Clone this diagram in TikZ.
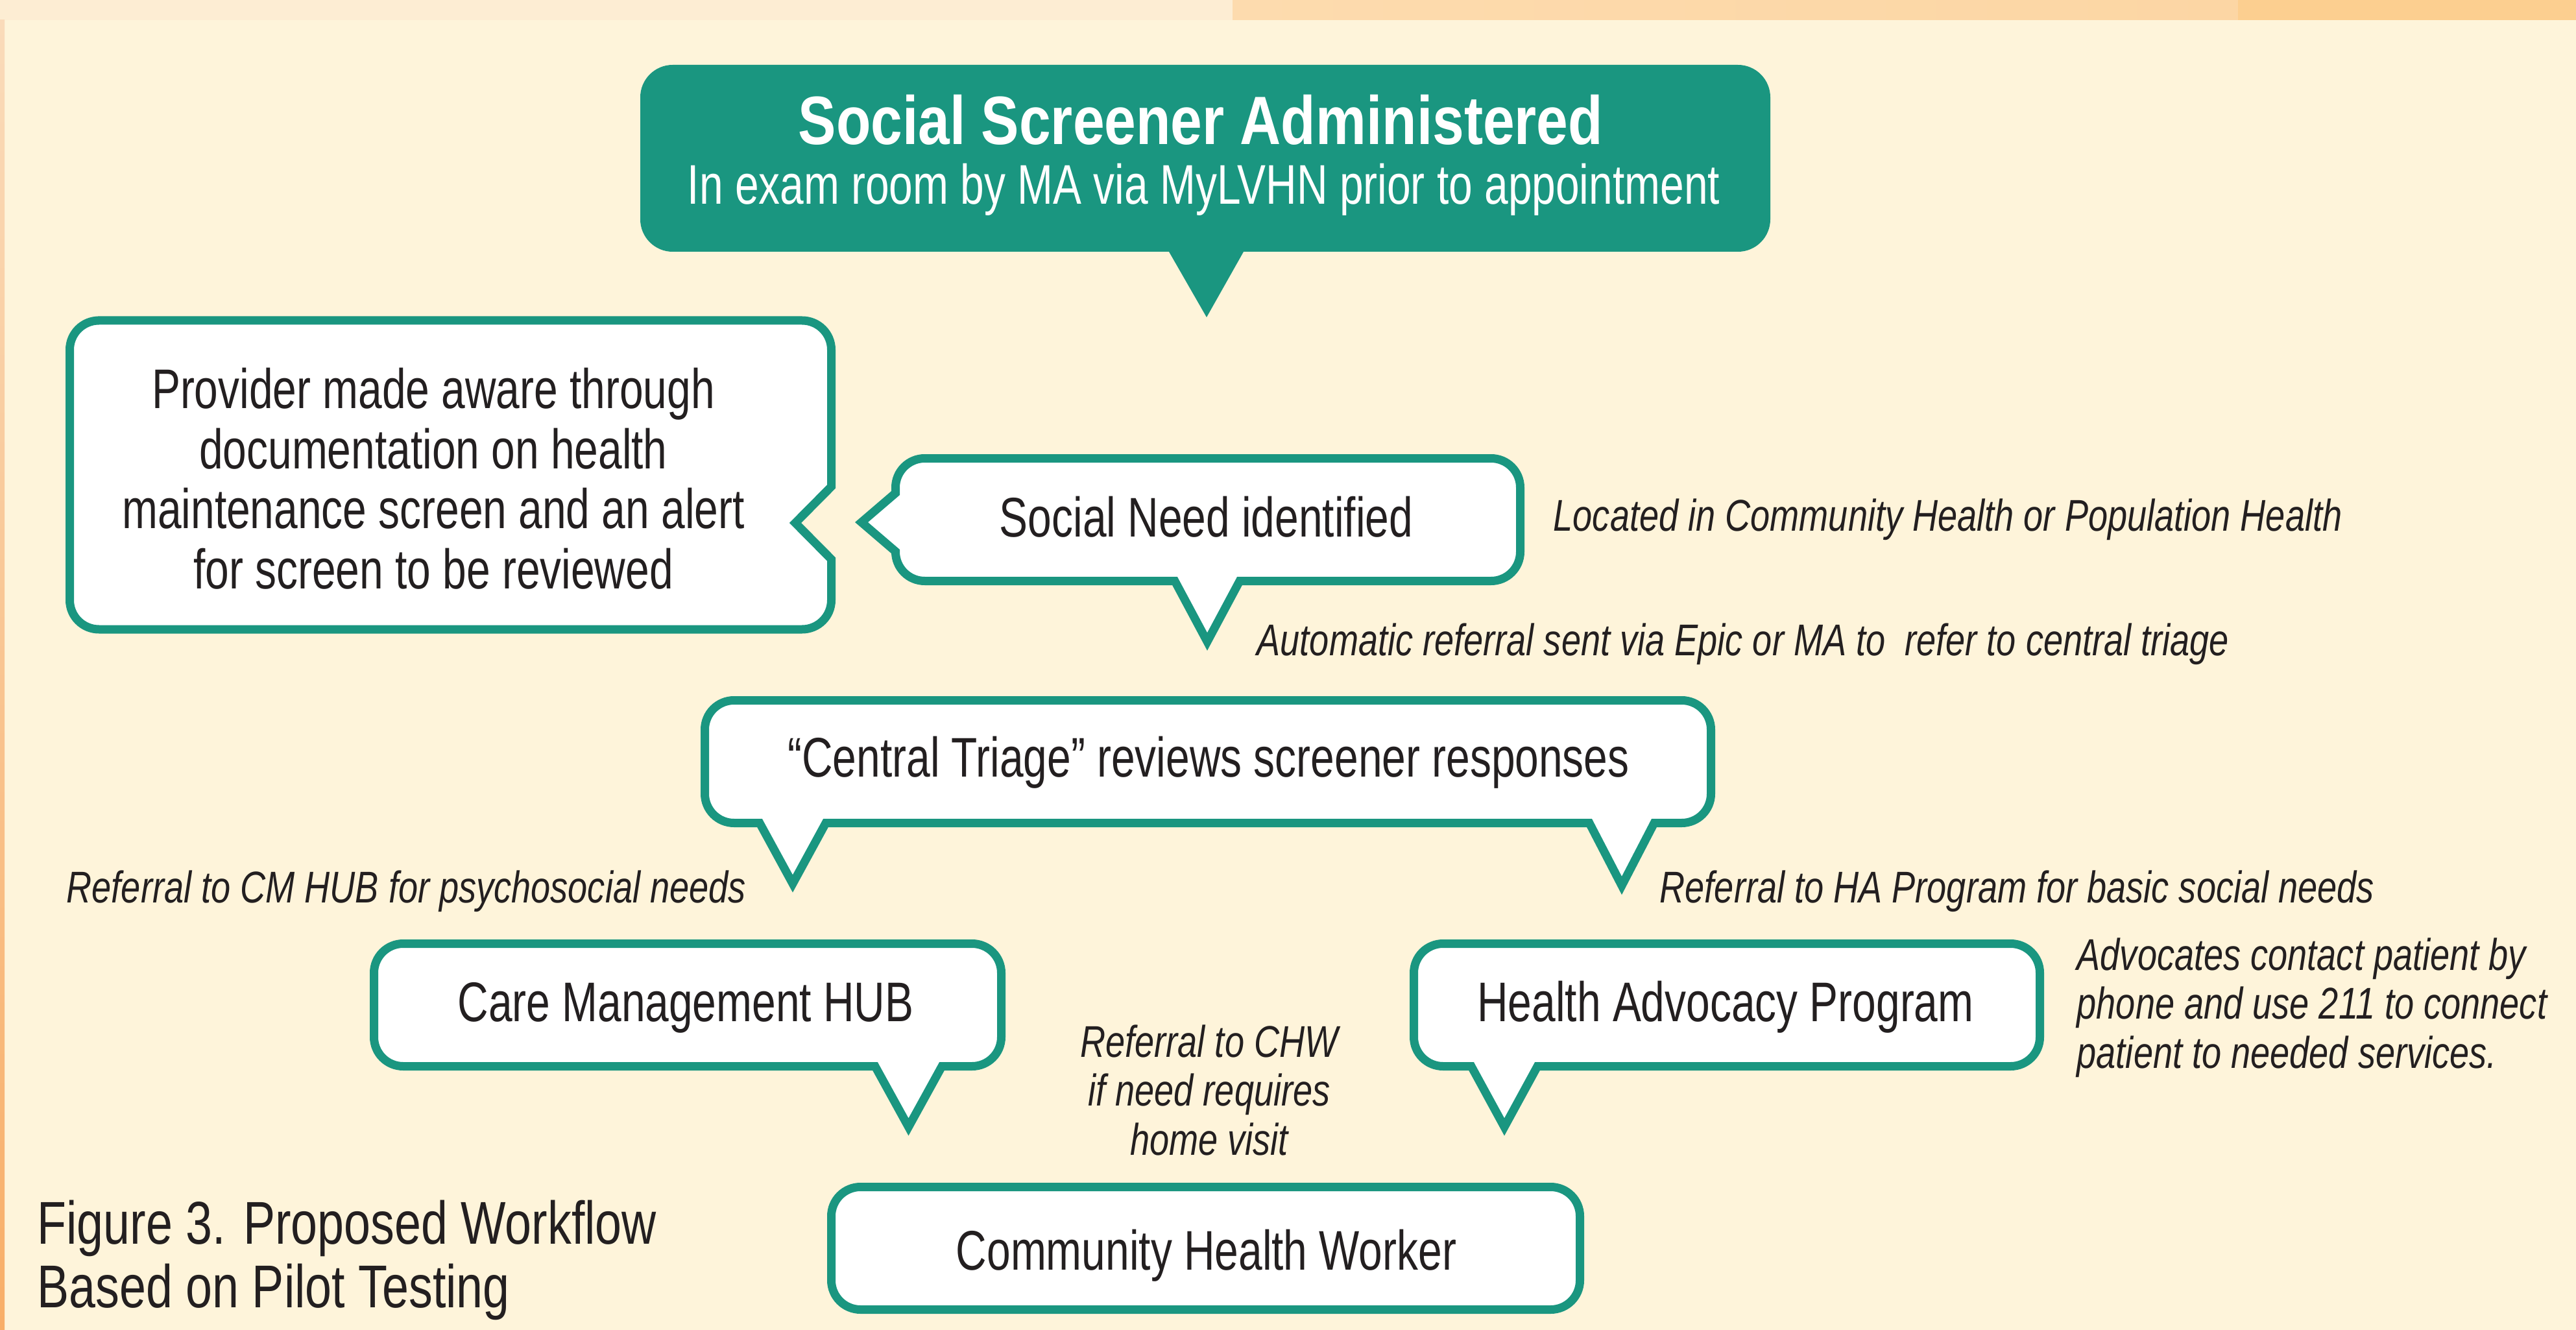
\documentclass[tikz,border=0pt]{standalone}
\usepackage{fontspec}
\setmainfont{Liberation Sans}[FakeStretch=0.765]
\newfontfamily\headfont{Liberation Sans}[FakeStretch=0.83]
\newfontfamily\notefont{Liberation Sans}[FakeStretch=0.79]

\definecolor{brandteal}{HTML}{1A9680}
\definecolor{cream}{HTML}{FEF4DA}
\definecolor{ink}{HTML}{231F20}
\definecolor{edgelight}{HTML}{FDEDD3}
\definecolor{edgepeach}{HTML}{FDDBAE}
\definecolor{edgepeachb}{HTML}{FCD6A4}
\definecolor{edgeorange}{HTML}{FCCF90}
\definecolor{sidetop}{HTML}{FADBBA}
\definecolor{sidebottom}{HTML}{F8AE68}

\tikzset{
  bubble/.style={draw=brandteal, line width=1.3mm, fill=white, line join=miter},
  boxtext/.style={inner sep=0pt, anchor=base, text=ink,
    font=\fontsize{24.5}{26.3}\selectfont},
  note/.style={inner sep=0pt, anchor=base west, text=ink,
    font=\notefont\fontsize{19.5}{21.6}\selectfont\itshape},
}

\begin{document}
\begin{tikzpicture}[x=1cm,y=1cm]
\useasboundingbox (0,0) rectangle (39.71,-20.50);

% page background with the tinted top and left edges
\fill[cream] (0,0) rectangle (39.71,-20.50);
\fill[edgelight] (0,0) rectangle (19.0,-0.31);
\shade[left color=edgepeach, right color=edgepeachb] (19.0,0) rectangle (34.5,-0.31);
\fill[edgeorange] (34.5,0) rectangle (39.71,-0.31);
\shade[top color=sidetop, bottom color=sidebottom] (0,-0.31) rectangle (0.07,-20.50);

% heading bubble
\fill[brandteal] (10.37,-1.00) -- (26.79,-1.00) arc[start angle=90,end angle=0,radius=0.5]
  -- (27.29,-3.38) arc[start angle=0,end angle=-90,radius=0.5]
  -- (19.17,-3.88) -- (18.60,-4.89) -- (18.02,-3.88)
  -- (10.37,-3.88) arc[start angle=270,end angle=180,radius=0.5]
  -- (9.87,-1.50) arc[start angle=180,end angle=90,radius=0.5] -- cycle;
\node[inner sep=0pt, anchor=base, text=white,
  font=\headfont\bfseries\fontsize{30}{34}\selectfont] (screener) at (18.51,-2.23)
  {Social Screener Administered};
\node[boxtext, text=white] (screenerwhere) at (18.555,-3.15)
  {In exam room by MA via MyLVHN prior to appointment};

% provider bubble with the notch on its right side
\draw[bubble] (1.525,-4.94) -- (12.365,-4.94) arc[start angle=90,end angle=0,radius=0.45]
  -- (12.815,-7.50) -- (12.26,-8.06) -- (12.815,-8.62)
  -- (12.815,-9.25) arc[start angle=0,end angle=-90,radius=0.45]
  -- (1.525,-9.70) arc[start angle=270,end angle=180,radius=0.45]
  -- (1.075,-5.39) arc[start angle=180,end angle=90,radius=0.45] -- cycle;
\node[boxtext] (provider) at (6.68,-6.30)
  {\begin{tabular}[t]{@{}c@{}}Provider made aware through\\ documentation on health\\
   maintenance screen and an alert\\ for screen to be reviewed\end{tabular}};

% social need bubble
\draw[bubble] (14.255,-7.065) -- (22.985,-7.065) arc[start angle=90,end angle=0,radius=0.45]
  -- (23.435,-8.505) arc[start angle=0,end angle=-90,radius=0.45]
  -- (19.11,-8.955) -- (18.61,-9.89) -- (18.11,-8.955)
  -- (14.255,-8.955) arc[start angle=270,end angle=180,radius=0.45]
  -- (13.805,-8.50) -- (13.28,-8.05) -- (13.805,-7.60)
  -- (13.805,-7.515) arc[start angle=180,end angle=90,radius=0.45] -- cycle;
\node[boxtext] (need) at (18.595,-8.277) {Social Need identified};

% central triage bubble
\draw[bubble] (11.315,-10.795) -- (25.925,-10.795) arc[start angle=90,end angle=0,radius=0.45]
  -- (26.375,-12.235) arc[start angle=0,end angle=-90,radius=0.45]
  -- (25.50,-12.685) -- (25.00,-13.65) -- (24.50,-12.685)
  -- (12.73,-12.685) -- (12.22,-13.62) -- (11.71,-12.685)
  -- (11.315,-12.685) arc[start angle=270,end angle=180,radius=0.45]
  -- (10.865,-11.245) arc[start angle=180,end angle=90,radius=0.45] -- cycle;
\node[boxtext] (triage) at (18.63,-11.97) {“Central Triage” reviews screener responses};

% care management bubble
\draw[bubble] (6.215,-14.545) -- (14.985,-14.545) arc[start angle=90,end angle=0,radius=0.45]
  -- (15.435,-15.985) arc[start angle=0,end angle=-90,radius=0.45]
  -- (14.52,-16.435) -- (14.005,-17.37) -- (13.49,-16.435)
  -- (6.215,-16.435) arc[start angle=270,end angle=180,radius=0.45]
  -- (5.765,-14.995) arc[start angle=180,end angle=90,radius=0.45] -- cycle;
\node[boxtext] (hub) at (10.57,-15.74) {Care Management HUB};

% health advocacy bubble
\draw[bubble] (22.245,-14.545) -- (30.995,-14.545) arc[start angle=90,end angle=0,radius=0.45]
  -- (31.445,-15.985) arc[start angle=0,end angle=-90,radius=0.45]
  -- (23.70,-16.435) -- (23.19,-17.37) -- (22.68,-16.435)
  -- (22.245,-16.435) arc[start angle=270,end angle=180,radius=0.45]
  -- (21.795,-14.995) arc[start angle=180,end angle=90,radius=0.45] -- cycle;
\node[boxtext] (advocacy) at (26.60,-15.74) {Health Advocacy Program};

% community health worker box
\draw[bubble, rounded corners=0.45cm] (12.815,-18.295) rectangle (24.355,-20.185);
\node[boxtext] (chw) at (18.595,-19.57) {Community Health Worker};

% side notes
\node[note] (located) at (23.94,-8.18) {Located in Community Health or Population Health};
\node[note] (auto) at (19.37,-10.10) {Automatic referral sent via Epic or MA to\ \ refer to central triage};
\node[note] (tocm) at (1.02,-13.91) {Referral to CM HUB for psychosocial needs};
\node[note] (toha) at (25.58,-13.91) {Referral to HA Program for basic social needs};
\node[note] (advnote) at (32.01,-14.95)
  {\begin{tabular}[t]{@{}l@{}}Advocates contact patient by\\ phone and use 211 to connect\\
   patient to needed services.\end{tabular}};
\node[note, anchor=base] (tochw) at (18.64,-16.29)
  {\begin{tabular}[t]{@{}c@{}}Referral to CHW\\ if need requires\\ home visit\end{tabular}};

% caption
\node[inner sep=0pt, anchor=base west, text=ink,
  font=\notefont\fontsize{26.5}{27.9}\selectfont] (caption) at (0.57,-19.17)
  {\begin{tabular}[t]{@{}l@{}}Figure 3. Proposed Workflow\\ Based on Pilot Testing\end{tabular}};
\end{tikzpicture}
\end{document}
